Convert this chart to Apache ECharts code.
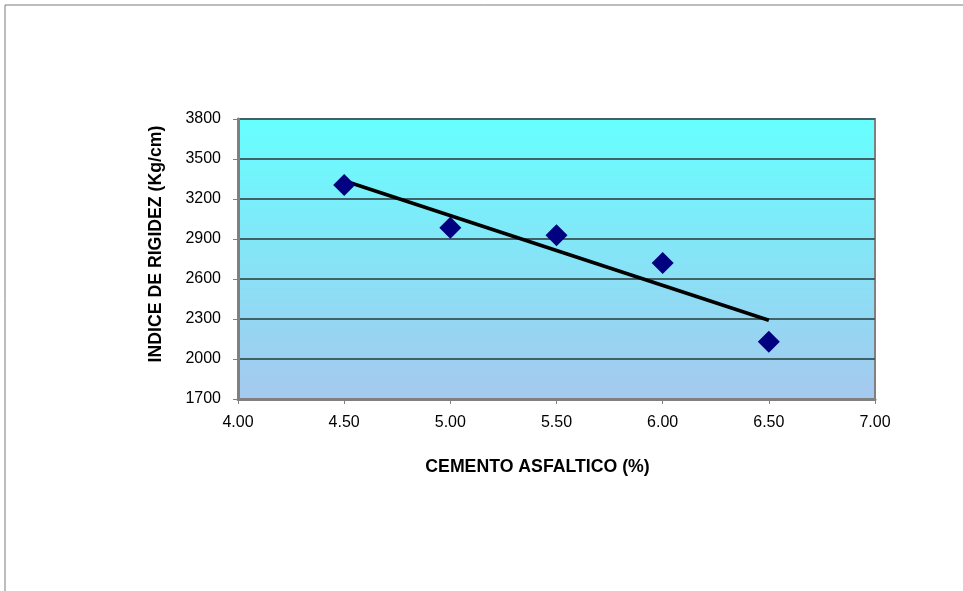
<!DOCTYPE html>
<html>
<head>
<meta charset="utf-8">
<script src="https://cdn.jsdelivr.net/npm/echarts@6/dist/echarts.min.js"></script>
<style>html,body{margin:0;padding:0;background:#fff}#c{width:963px;height:591px}</style>
</head>
<body>
<div id="c"></div>
<script>
var cemento = [4.5, 5.0, 5.5, 6.0, 6.5];
var rigidez = [3305, 2985, 2928, 2720, 2130];
var xTicks = [4.0, 4.5, 5.0, 5.5, 6.0, 6.5, 7.0];
var yTicks = [1700, 2000, 2300, 2600, 2900, 3200, 3500, 3800];

// linear regression trend line (Excel-style linear trendline)
var n = cemento.length, sx = 0, sy = 0, sxx = 0, sxy = 0;
for (var i = 0; i < n; i++) { sx += cemento[i]; sy += rigidez[i]; sxx += cemento[i]*cemento[i]; sxy += cemento[i]*rigidez[i]; }
var slope = (n*sxy - sx*sy) / (n*sxx - sx*sx);
var icpt = (sy - slope*sx) / n;
var xmin = Math.min.apply(null, cemento), xmax = Math.max.apply(null, cemento);
var trend = [[xmin, icpt + slope*xmin], [xmax, icpt + slope*xmax]];

var chart = echarts.init(document.getElementById('c'), null, {renderer: 'canvas'});
var font = 'Liberation Sans, Arial, sans-serif';
chart.setOption({
  animation: false,
  backgroundColor: '#ffffff',
  graphic: [{
    type: 'rect', shape: {x: 5, y: 5, width: 1000, height: 700},
    style: {fill: 'none', stroke: '#7a7a7a', lineWidth: 1}, z: -10
  }],
  grid: {
    left: 238, top: 119, right: 88, bottom: 192,
    show: true,
    borderColor: '#808080', borderWidth: 2,
    backgroundColor: new echarts.graphic.LinearGradient(0, 0, 0, 1, [
      {offset: 0, color: '#66FFFF'},
      {offset: 1, color: '#A6C8EE'}
    ])
  },
  xAxis: {
    type: 'value', min: 4.0, max: 7.0, interval: 0.5,
    name: 'CEMENTO ASFALTICO (%)', nameLocation: 'middle', nameGap: 59,
    nameTextStyle: {fontFamily: font, fontWeight: 'bold', fontSize: 17.7, color: '#000',
      padding: [0, 38, 0, 0]},
    axisLine: {show: true, onZero: false, lineStyle: {color: '#808080', width: 3}},
    axisTick: {show: true, length: 5, lineStyle: {color: '#808080', width: 1}},
    axisLabel: {fontFamily: font, fontSize: 16, color: '#000', margin: 16,
      formatter: function (v) { return v.toFixed(2); }},
    splitLine: {show: false}
  },
  yAxis: {
    type: 'value', min: 1700, max: 3800, interval: 300,
    name: 'INDICE DE RIGIDEZ (Kg/cm)', nameLocation: 'middle', nameGap: 73,
    nameTextStyle: {fontFamily: font, fontWeight: 'bold', fontSize: 17.7, color: '#000',
      padding: [0, 0, 0, 30]},
    axisLine: {show: true, onZero: false, lineStyle: {color: '#808080', width: 3}},
    axisTick: {show: true, length: 5, lineStyle: {color: '#808080', width: 1}},
    axisLabel: {fontFamily: font, fontSize: 16, color: '#000', margin: 17,
      formatter: function (v) { return String(v); }},
    splitLine: {show: true, lineStyle: {color: '#3f6168', width: 2}}
  },
  series: [{
    type: 'line', data: trend, symbol: 'none',
    lineStyle: {color: '#000000', width: 3.5}, z: 2, silent: true
  }, {
    type: 'scatter',
    data: cemento.map(function (x, i) { return [x, rigidez[i]]; }),
    symbol: 'diamond', symbolSize: [22, 22],
    itemStyle: {color: '#000080', opacity: 1}, z: 3
  }]
});
</script>
</body>
</html>
